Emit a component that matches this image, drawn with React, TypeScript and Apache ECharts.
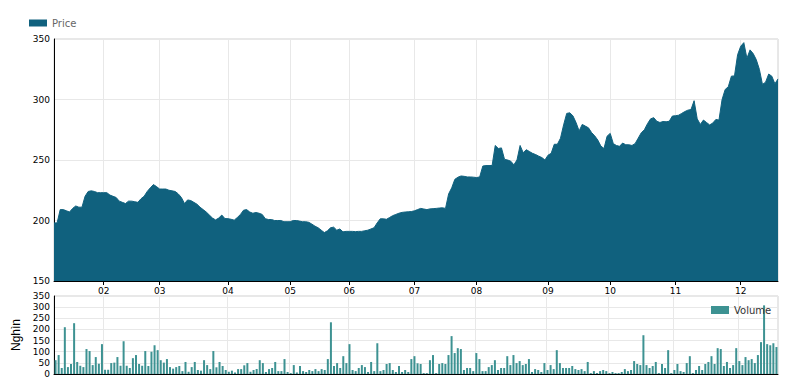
import React, { useEffect, useRef } from "react";
import * as echarts from "echarts";

const YEAR = 2017;
// trading days shown per month (Jan partial ... Dec partial)
const monthTradingDays = [16, 18, 22, 20, 19, 21, 20, 23, 20, 21, 21, 13];

const priceValues = [
  198, 198, 209, 209, 208, 207, 210, 212, 211, 211,
  220, 224, 224.5, 224, 223, 223, 223, 223, 221, 220,
  219, 216, 215, 214, 216, 216, 215.5, 215, 218, 220,
  224, 227, 229.7, 228, 226, 226, 226, 225, 224.5, 224,
  222, 219, 214, 217, 216.5, 215, 213.5, 211, 209, 207,
  204.5, 202, 200.5, 202, 204.5, 201.6, 201.5, 201, 200.3, 202.5,
  205, 208.5, 209, 207, 206, 206.6, 206, 205, 201.5, 200.8,
  200.8, 200, 200, 200, 199, 199, 199,
  200, 200, 199.5, 199, 199, 198.5, 197, 195.3, 194, 192,
  190, 191.5, 194, 194.5, 192, 193, 190.6, 191, 191, 191,
  190.8, 191, 191, 191.5, 192, 193, 194, 198, 201.4, 201.4,
  201, 202.5, 204, 205, 206, 206.7, 207, 207.2, 207.4, 208,
  209, 210, 209.5, 209, 209.6, 209.8, 210, 210.3, 210.5, 210,
  222, 227, 234, 235.8, 236.8, 236.5, 236, 236, 235.8, 235.5,
  236, 245, 245.4, 245.4, 245.5, 262, 259.5, 260, 250.5, 250,
  249, 246, 250, 262, 256, 258.5, 257,
  255.5, 254.5, 253.2, 252, 250, 254, 255.5, 263, 263, 268,
  279, 288.5, 289, 286.5, 281, 274, 279.4, 278, 276.6, 272.7,
  270, 266.5, 261.5, 259.5, 269.7, 272, 263.5, 262, 261.3, 264,
  262.6, 262.6, 262, 263.5, 268, 272.5, 275, 280, 284, 285,
  282, 281, 281.8, 281.6, 282, 286.3, 286.6, 287, 288.5, 290,
  291.2, 291.7, 299, 284, 279.4, 283, 281, 279, 280.5, 283.5,
  283, 300, 308.3, 310.5, 319.3, 319.5, 337, 344, 347, 334,
  341, 338, 333, 325, 312.5, 314.3, 321, 319.3, 313, 317,
];

const volumeValues = [
  62, 85, 27, 210, 31, 45, 228, 54, 37, 31,
  112, 103, 40, 76, 46, 134, 19, 19, 49, 51,
  76, 37, 147, 37, 27, 71, 85, 45, 37, 103,
  36, 100, 129, 107, 62, 51, 67, 31, 24, 31,
  36, 13, 54, 10, 31, 54, 18,
  15, 62, 40, 22, 103, 30, 54, 36, 18, 10,
  15, 7, 22, 22, 39, 49, 10, 18, 22, 62,
  49, 9, 22, 27, 54, 13, 13, 67, 9, 4,
  40, 7, 36, 13, 9, 18, 13, 22, 13, 22,
  18, 67, 232, 36, 49, 27, 80, 49, 134, 18,
  13, 27, 40, 31, 9, 54, 13, 138, 13, 18,
  45, 49, 18, 9, 36, 9, 18, 9, 67, 80,
  48,
  45, 4, 4, 62, 85, 4, 45, 49, 45, 85,
  170, 94, 116, 112, 18, 27, 27, 13, 94, 67,
  13, 13, 31, 40, 62, 18, 27, 27, 80, 40,
  85, 49, 58, 40, 45, 67, 9, 22, 18, 9,
  49, 18, 40, 22, 107, 49, 27, 27, 27, 36,
  22, 18, 22, 13, 54, 4, 13, 4,
  13, 18, 13, 4, 9, 4, 4, 9, 22, 13,
  18, 58, 45, 40, 174, 40, 27, 36, 54, 4,
  45, 27, 107, 4, 18, 45, 13, 9, 49, 80,
  4, 18, 36, 18, 45, 54, 80, 45, 116, 112,
  36, 54, 27, 40, 116, 58, 40, 76, 62, 67,
  49, 85, 143, 308, 134, 129, 138, 121,
];

const priceTicks = [150, 200, 250, 300, 350];
const volumeTicks = [0, 50, 100, 150, 200, 250, 300, 350];

function pad(n: number) {
  return n < 10 ? "0" + n : "" + n;
}

function buildDates(): string[] {
  const out: string[] = [];
  monthTradingDays.forEach((count, m) => {
    const days: string[] = [];
    const last = new Date(YEAR, m + 1, 0).getDate();
    for (let d = 1; d <= last; d++) {
      const wd = new Date(YEAR, m, d).getDay();
      if (wd !== 0 && wd !== 6) days.push(`${YEAR}-${pad(m + 1)}-${pad(d)}`);
    }
    const picked = m === 0 ? days.slice(days.length - count) : days.slice(0, count);
    out.push(...picked);
  });
  return out;
}

const dates = buildDates();
const monthStarts = new Set<number>();
dates.forEach((d, i) => {
  if (i > 0 && d.slice(5, 7) !== dates[i - 1].slice(5, 7)) monthStarts.add(i);
});
const isMonthStart = (idx: number) => monthStarts.has(idx);

const AREA = "#10617e";
const VOL = "#3d9292";
const GRIDLINE = "#e8e8e8";
const FONT = "DejaVu Sans";

export default function App() {
  const ref = useRef<HTMLDivElement>(null);
  useEffect(() => {
    if (!ref.current) return;
    const chart = echarts.init(ref.current, null, { renderer: "svg" });
    chart.setOption({
      animation: false,
      backgroundColor: "#fff",
      legend: [
        {
          data: ["Price"],
          left: 24,
          top: 13,
          itemWidth: 18,
          itemHeight: 7,
          itemGap: 4,
          icon: "rect",
          textStyle: { color: "#666", fontSize: 10, fontFamily: FONT },
        },
        {
          data: ["Volume"],
          left: 706,
          top: 300,
          itemWidth: 18,
          itemHeight: 8,
          icon: "rect",
          textStyle: { color: "#333", fontSize: 10, fontFamily: FONT },
        },
      ],
      grid: [
        { left: 54, right: 17, top: 39, height: 242, show: true, borderColor: "#d0d0d0", borderWidth: 1 },
        { left: 54, right: 17, top: 296, height: 78, show: true, borderColor: "#d0d0d0", borderWidth: 1 },
      ],
      xAxis: [
        {
          type: "category",
          gridIndex: 0,
          data: dates,
          boundaryGap: false,
          axisLine: { lineStyle: { color: "#000" } },
          axisTick: { show: true, interval: isMonthStart, length: 4, lineStyle: { color: "#000" } },
          axisLabel: {
            interval: isMonthStart,
            formatter: (v: string) => v.slice(5, 7),
            color: "#000",
            fontSize: 9,
            fontFamily: FONT,
            margin: 5,
          },
          splitLine: { show: true, interval: isMonthStart, lineStyle: { color: GRIDLINE } },
        },
        {
          type: "category",
          gridIndex: 1,
          data: dates,
          boundaryGap: true,
          axisLine: { lineStyle: { color: "#000" } },
          axisTick: { show: false },
          axisLabel: { show: false },
          splitLine: { show: true, interval: isMonthStart, lineStyle: { color: GRIDLINE } },
        },
      ],
      yAxis: [
        {
          type: "value",
          gridIndex: 0,
          min: priceTicks[0],
          max: priceTicks[priceTicks.length - 1],
          interval: 50,
          axisLine: { show: true, lineStyle: { color: "#000" } },
          axisTick: { show: false },
          axisLabel: { color: "#000", fontSize: 9, fontFamily: FONT, margin: 4 },
          splitLine: { show: true, lineStyle: { color: GRIDLINE } },
        },
        {
          type: "value",
          gridIndex: 1,
          min: volumeTicks[0],
          max: volumeTicks[volumeTicks.length - 1],
          interval: 50,
          name: "Nghìn",
          nameLocation: "middle",
          nameRotate: 90,
          nameGap: 32,
          nameTextStyle: { color: "#000", fontSize: 12, fontFamily: "Liberation Sans" },
          axisLine: { show: true, lineStyle: { color: "#000" } },
          axisTick: { show: false },
          axisLabel: { color: "#000", fontSize: 9, fontFamily: FONT, margin: 4 },
          splitLine: { show: true, lineStyle: { color: GRIDLINE } },
        },
      ],
      series: [
        {
          name: "Price",
          type: "line",
          xAxisIndex: 0,
          yAxisIndex: 0,
          data: priceValues,
          showSymbol: false,
          symbol: "none",
          itemStyle: { color: AREA },
          lineStyle: { color: AREA, width: 1 },
          areaStyle: { color: AREA, opacity: 1 },
        },
        {
          name: "Volume",
          type: "bar",
          xAxisIndex: 1,
          yAxisIndex: 1,
          data: volumeValues,
          barWidth: 2,
          itemStyle: { color: VOL },
        },
      ],
    });
    return () => chart.dispose();
  }, []);
  return (
    <div
      ref={ref}
      style={{ position: "absolute", left: 0, top: 0, width: 795, height: 384 }}
    />
  );
}
